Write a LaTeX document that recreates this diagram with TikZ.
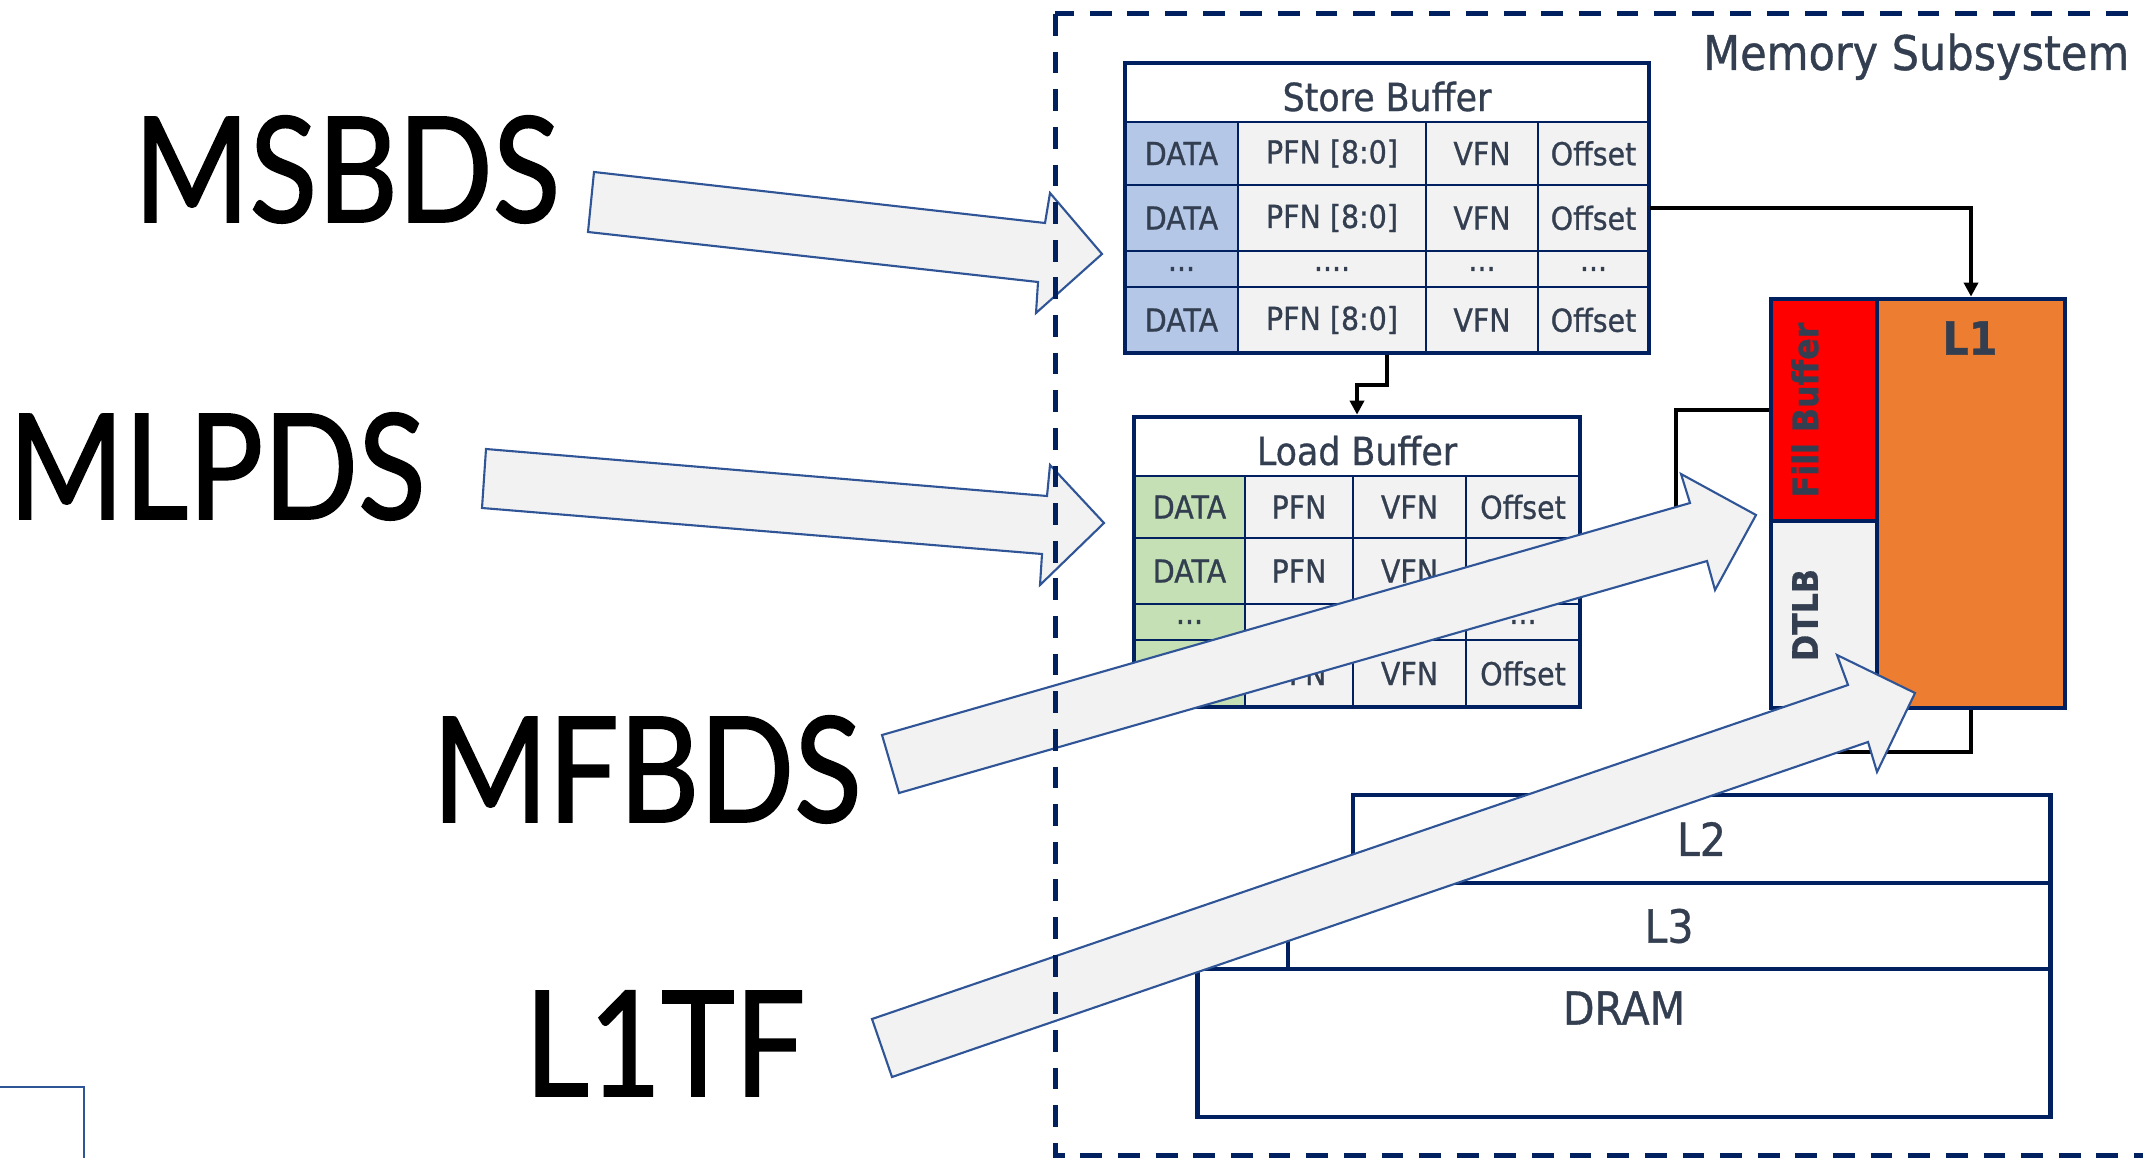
\documentclass[tikz,border=0pt]{standalone}
\usepackage{fontspec}
\usepackage{tikz}
\usetikzlibrary{arrows.meta}

\newfontfamily\boxfont[FakeStretch=0.9, FakeBold=0.8]{DejaVu Sans}
\newfontfamily\bigfont[FakeStretch=0.85, FakeBold=1.2]{Lato}

\definecolor{navy}{HTML}{002060}
\definecolor{txt}{HTML}{333F50}
\definecolor{sbblue}{HTML}{B4C7E7}
\definecolor{lbgreen}{HTML}{C5E0B4}
\definecolor{cellgrey}{HTML}{F2F2F2}
\definecolor{l1orange}{HTML}{ED7D31}
\definecolor{fbred}{HTML}{FF0000}
\definecolor{arrowblue}{HTML}{2F5597}

\tikzset{
  cell/.style={draw=navy, line width=0.6pt, fill=cellgrey, text=txt, inner sep=0pt,
    font=\boxfont\fontsize{9}{10}\selectfont},
  titlecell/.style={cell, fill=white, text height=10.7pt, font=\boxfont\fontsize{11}{12}\selectfont},
  outline/.style={draw=navy, line width=1.3pt, inner sep=0pt},
  box/.style={outline, text=txt, font=\boxfont\fontsize{13}{14}\selectfont},
  boldlbl/.style={text=txt, inner sep=0pt, font=\boxfont\bfseries\fontsize{10}{11}\selectfont},
  biglbl/.style={inner sep=0pt, font=\bigfont\fontsize{41.7}{45}\selectfont},
  conn/.style={draw=black, line width=1.2pt, -{Triangle[length=4pt,width=4pt]}},
  plain/.style={draw=black, line width=1.2pt},
  bigarrow/.style={draw=arrowblue, line width=0.6pt, fill=cellgrey, line join=miter},
  frame/.style={draw=navy, line width=1.42pt, dash pattern=on 6.2pt off 4.5pt}
}

\begin{document}
\begin{tikzpicture}[x=0.01cm, y=-0.01cm]
  \clip (0,0) rectangle (2143,1158);
  \draw[arrowblue, line width=0.6pt] (0,1087) -- (84,1087) -- (84,1170);

  % attack names
  \node[biglbl, anchor=base] (msbds) at (347,222) {MSBDS};
  \node[biglbl, anchor=base] (mlpds) at (217,519) {MLPDS};
  \node[biglbl, anchor=base] (mfbds) at (647,822) {MFBDS};
  \node[biglbl, anchor=base] (l1tf) at (665,1096) {L1TF};

  \node[text=txt, anchor=base east, inner sep=0pt, font=\boxfont\fontsize{13.6}{15}\selectfont] (memsub) at (2130,70) {Memory Subsystem};

  % store buffer
  \node[titlecell, minimum width=5.24cm, minimum height=0.59cm] (sbtitle) at (1387,92.5) {Store Buffer};
  \foreach \r/\y/\h in {1/153.5/0.63, 2/218/0.66, 4/320/0.66} {
    \node[cell, fill=sbblue, minimum width=1.13cm, minimum height=\h cm] (sb-\r-1) at (1181.5,\y) {DATA};
    \node[cell, minimum width=1.88cm, minimum height=\h cm] (sb-\r-2) at (1332,\y) {PFN [8:0]};
    \node[cell, minimum width=1.12cm, minimum height=\h cm] (sb-\r-3) at (1482,\y) {VFN};
    \node[cell, minimum width=1.11cm, minimum height=\h cm] (sb-\r-4) at (1593.5,\y) {Offset};
  }
  \node[cell, fill=sbblue, minimum width=1.13cm, minimum height=0.36cm] (sb-3-1) at (1181.5,269) {...};
  \node[cell, minimum width=1.88cm, minimum height=0.36cm] (sb-3-2) at (1332,269) {....};
  \node[cell, minimum width=1.12cm, minimum height=0.36cm] (sb-3-3) at (1482,269) {...};
  \node[cell, minimum width=1.11cm, minimum height=0.36cm] (sb-3-4) at (1593.5,269) {...};
  \node[outline, minimum width=5.24cm, minimum height=2.9cm] (sb) at (1387,208) {};

  % load buffer
  \node[titlecell, minimum width=4.46cm, minimum height=0.59cm] (lbtitle) at (1357,446.5) {Load Buffer};
  \foreach \r/\y/\h in {1/507/0.62, 2/571/0.66, 4/673.5/0.67} {
    \node[cell, fill=lbgreen, minimum width=1.11cm, minimum height=\h cm] (lb-\r-1) at (1189.5,\y) {DATA};
    \node[cell, minimum width=1.08cm, minimum height=\h cm] (lb-\r-2) at (1299,\y) {PFN};
    \node[cell, minimum width=1.13cm, minimum height=\h cm] (lb-\r-3) at (1409.5,\y) {VFN};
    \node[cell, minimum width=1.14cm, minimum height=\h cm] (lb-\r-4) at (1523,\y) {Offset};
  }
  \node[cell, fill=lbgreen, minimum width=1.11cm, minimum height=0.36cm] (lb-3-1) at (1189.5,622) {...};
  \node[cell, minimum width=1.08cm, minimum height=0.36cm] (lb-3-2) at (1299,622) {...};
  \node[cell, minimum width=1.13cm, minimum height=0.36cm] (lb-3-3) at (1409.5,622) {...};
  \node[cell, minimum width=1.14cm, minimum height=0.36cm] (lb-3-4) at (1523,622) {...};
  \node[outline, minimum width=4.46cm, minimum height=2.9cm] (lb) at (1357,562) {};

  % L1 with fill buffer and DTLB
  \node[outline, fill=fbred, minimum width=1.06cm, minimum height=2.22cm] (fb) at (1824,410) {};
  \node[outline, fill=cellgrey, minimum width=1.06cm, minimum height=1.87cm] (dtlb) at (1824,614.5) {};
  \node[outline, fill=l1orange, minimum width=1.88cm, minimum height=4.09cm] (l1) at (1971,503.5) {};
  \node[boldlbl, rotate=90] (fbtext) at (1805,410) {Fill Buffer};
  \node[boldlbl, rotate=90] (dtlbtext) at (1805,615) {DTLB};
  \node[boldlbl, font=\boxfont\bfseries\fontsize{13}{14}\selectfont] (l1text) at (1970,338) {L1};

  % L2, L3, DRAM
  \node[box, fill=white, minimum width=6.97cm, minimum height=0.88cm] (l2) at (1701.5,839) {L2};
  \node[box, fill=white, minimum width=7.62cm, minimum height=0.86cm] (l3) at (1669,926) {L3};
  \node[box, fill=white, minimum width=8.52cm, minimum height=1.48cm] (dram) at (1624,1043) {};
  \node[text=txt, inner sep=0pt, font=\boxfont\fontsize{13}{14}\selectfont] (dramtext) at (1624,1008) {DRAM};

  % connectors
  \coordinate (fbend) at (1676,540);
  \coordinate (l1end) at (1800,752);
  \draw[conn] ([yshift=0.1cm]sb-2-4.east) -| (l1.north);
  \draw[conn] (sb.south) -- ++(0,30) -| (lb.north);
  \draw[plain] (fb.west) -| (fbend);
  \draw[plain] (l1.south) |- (l1end);

  % block arrows
  \draw[bigarrow] (594,172) -- (1045,223) -- (1050,193) -- (1102,254) -- (1036,313) -- (1038,282) -- (588,232) -- cycle;
  \draw[bigarrow] (486,449) -- (1047,496) -- (1050,465) -- (1104,523) -- (1040,585) -- (1042,554) -- (482,508) -- cycle;
  \draw[bigarrow] (882,735) -- (1690,503) -- (1681,474) -- (1756,515) -- (1715,590) -- (1707,561) -- (899,793) -- cycle;
  \draw[bigarrow] (872,1019) -- (1848,685) -- (1837,655) -- (1915,693) -- (1877,772) -- (1868,742) -- (892,1077) -- cycle;

  \draw[frame] (1055,14) rectangle (2200,1155);
\end{tikzpicture}
\end{document}
